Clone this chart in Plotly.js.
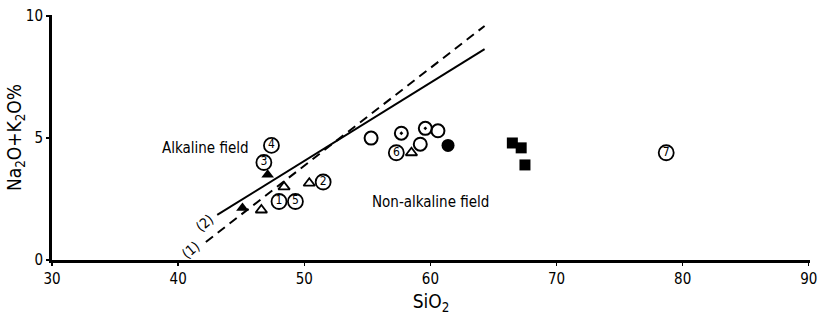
<!DOCTYPE html>
<html><head><meta charset="utf-8">
<script src="https://cdn.plot.ly/plotly-3.0.1.min.js"></script>
<style>html,body{margin:0;padding:0;background:#fff}#chart{width:819px;height:330px}</style>
</head><body><div id="chart"></div>
<script>
// ---- data (SiO2 %, Na2O+K2O %) ----
const numberedX = [48.0, 51.5, 46.8, 47.4, 49.3, 57.3, 78.7];
const numberedY = [2.4, 3.2, 4.0, 4.7, 2.4, 4.4, 4.4];
const numberedLabels = ["1", "2", "3", "4", "5", "6", "7"];
const openCircleX = [55.3, 60.6, 59.2];
const openCircleY = [5.0, 5.3, 4.75];
const dotCircleX = [57.7, 59.6];
const dotCircleY = [5.2, 5.4];
const filledCircleX = [61.4];
const filledCircleY = [4.7];
const filledTriX = [45.1, 47.1];
const filledTriY = [2.13, 3.5];
const openTriX = [46.6, 48.4, 50.4, 58.5];
const openTriY = [2.05, 3.0, 3.15, 4.4];
const squareX = [66.5, 67.2, 67.5];
const squareY = [4.8, 4.6, 3.9];
const line2X = [43.1, 64.3];
const line2Y = [1.85, 8.65];
const line1X = [42.2, 64.3];
const line1Y = [0.74, 9.6];
const xTicks = [30, 40, 50, 60, 70, 80, 90];
const yTicks = [0, 5, 10];

const font = "DejaVu Sans Condensed, Liberation Sans Narrow, sans-serif";
const K = "#000";
const traces = [
  {x: line2X, y: line2Y, mode: "lines", line: {color: K, width: 2}},
  {x: line1X, y: line1Y, mode: "lines", line: {color: K, width: 2, dash: "9px,6px"}},
  {x: numberedX, y: numberedY, text: numberedLabels, mode: "markers+text", textposition: "middle center",
   textfont: {family: font, size: 12, color: K},
   marker: {symbol: "circle-open", size: 15, color: K, line: {width: 1.8, color: K}}},
  {x: openCircleX, y: openCircleY, mode: "markers",
   marker: {symbol: "circle-open", size: 13, color: K, line: {width: 2, color: K}}},
  {x: dotCircleX, y: dotCircleY, mode: "markers",
   marker: {symbol: "circle-open-dot", size: 13, color: K, line: {width: 2, color: K}}},
  {x: filledCircleX, y: filledCircleY, mode: "markers",
   marker: {symbol: "circle", size: 13, color: K}},
  {x: filledTriX, y: filledTriY, mode: "markers",
   marker: {symbol: "triangle-up", size: 11, color: K}},
  {x: openTriX, y: openTriY, mode: "markers",
   marker: {symbol: "triangle-up-open", size: 10, color: K, line: {width: 1.8, color: K}}},
  {x: squareX, y: squareY, mode: "markers",
   marker: {symbol: "square", size: 11, color: K}}
];
const layout = {
  width: 819, height: 330,
  margin: {l: 52, r: 9, t: 15, b: 70},
  paper_bgcolor: "#fff", plot_bgcolor: "#fff",
  showlegend: false,
  font: {family: font, color: K, size: 14},
  xaxis: {range: [30, 90.1], tickvals: xTicks, ticktext: xTicks.map(String), showgrid: false, zeroline: false,
    showline: true, linecolor: K, linewidth: 3, ticks: "outside", ticklen: 3, tickwidth: 1.5, tickcolor: K,
    ticklabeloverflow: "allow",
    tickfont: {family: font, size: 15, color: K},
    title: {text: "SiO<sub>2</sub>", font: {family: font, size: 19, color: K}, standoff: 8}},
  yaxis: {range: [0, 10.05], tickvals: yTicks, ticktext: yTicks.map(String), showgrid: false, zeroline: false,
    showline: true, linecolor: K, linewidth: 3, ticks: "outside", ticklen: 3, tickwidth: 1.5, tickcolor: K,
    tickfont: {family: font, size: 15, color: K},
    title: {text: "Na<sub>2</sub>O+K<sub>2</sub>O%", font: {family: font, size: 19, color: K}, standoff: 0}},
  annotations: [
    {x: 42.2, y: 4.6, text: "Alkaline field", showarrow: false, font: {family: font, size: 15, color: K}},
    {x: 60.0, y: 2.37, text: "Non-alkaline field", showarrow: false, font: {family: font, size: 15, color: K}},
    {x: 42.1, y: 1.5, text: "(2)", showarrow: false, textangle: -40, font: {family: font, size: 14, color: K}},
    {x: 41.0, y: 0.4, text: "(1)", showarrow: false, textangle: -40, font: {family: font, size: 14, color: K}}
  ]
};
Plotly.newPlot("chart", traces, layout, {displayModeBar: false, staticPlot: true});
</script></body></html>
